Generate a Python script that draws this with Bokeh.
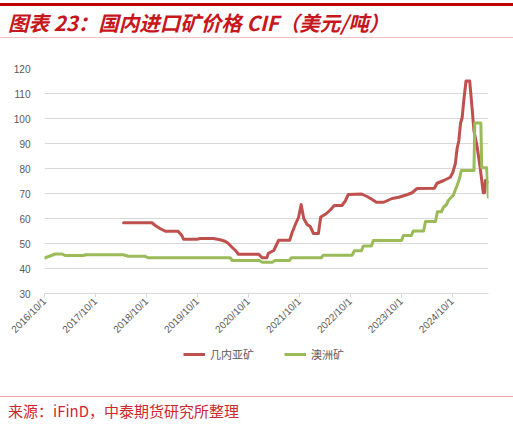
import math
from bokeh.plotting import figure
from bokeh.models import FixedTicker, Legend, LegendItem, Div, ColumnDataSource, Range1d
from bokeh.layouts import column
from bokeh.embed import file_html
from bokeh.resources import INLINE

# ---------------- data ----------------
guinea_dates = [
    "2018-04-20", "2018-11-10", "2018-12-04", "2019-01-10", "2019-02-15", "2019-05-15",
    "2019-06-12", "2019-06-24", "2019-09-28", "2019-10-22", "2020-01-25", "2020-03-12",
    "2020-04-18", "2020-05-09", "2020-06-06", "2020-07-01", "2020-07-22", "2020-12-15",
    "2021-01-09", "2021-02-12", "2021-02-24", "2021-04-01", "2021-05-06", "2021-07-24",
    "2021-08-10", "2021-09-03", "2021-09-27", "2021-10-15", "2021-11-03", "2021-11-27",
    "2021-12-19", "2022-01-12", "2022-02-17", "2022-03-03", "2022-04-12", "2022-05-12",
    "2022-06-09", "2022-08-03", "2022-08-27", "2022-09-18", "2022-12-21", "2023-01-31",
    "2023-03-01", "2023-04-06", "2023-05-28", "2023-07-28", "2023-09-15", "2023-11-13",
    "2023-12-19", "2024-01-24", "2024-05-27", "2024-06-15", "2024-08-03", "2024-09-19",
    "2024-10-07", "2024-10-25", "2024-11-07", "2024-11-19", "2024-12-01", "2024-12-13",
    "2024-12-25", "2025-01-10", "2025-02-06", "2025-02-24", "2025-03-06", "2025-03-28",
    "2025-04-21", "2025-05-12", "2025-05-21", "2025-05-27", "2025-06-12",
]
guinea_values = [
    58.3, 58.3, 57.2, 55.9, 54.9, 54.9,
    53.2, 51.7, 51.7, 52.0, 52.0, 51.5,
    50.9, 50.1, 48.5, 47.2, 45.7, 45.7,
    44.3, 44.3, 46.1, 47.2, 51.3, 51.3,
    54.2, 57.5, 60.5, 65.6, 60.0, 57.6,
    56.8, 54.0, 54.0, 60.6, 61.9, 63.5,
    65.2, 65.2, 67.0, 69.6, 69.8, 68.8,
    67.8, 66.5, 66.5, 68.0, 68.5, 69.5,
    70.3, 72.0, 72.1, 74.1, 75.2, 76.5,
    78.5, 82.0, 88.0, 91.0, 98.0, 100.5,
    107.5, 115.0, 115.0, 103.5, 95.0, 89.0,
    80.0, 70.3, 70.3, 75.2, 74.5,
]

australia_dates = [
    "2016-10-01", "2016-11-10", "2016-12-16", "2017-02-06", "2017-02-27", "2017-07-04",
    "2017-07-25", "2018-04-18", "2018-05-22", "2018-09-22", "2018-10-12", "2020-05-24",
    "2020-06-08", "2020-12-18", "2021-01-10", "2021-03-21", "2021-04-12", "2021-07-21",
    "2021-08-06", "2022-03-07", "2022-03-21", "2022-10-15", "2022-11-01", "2022-12-21",
    "2023-01-04", "2023-03-01", "2023-03-15", "2023-10-04", "2023-10-18", "2023-12-13",
    "2023-12-28", "2024-03-10", "2024-03-24", "2024-06-04", "2024-06-18", "2024-07-16",
    "2024-07-31", "2024-08-21", "2024-09-05", "2024-10-12", "2024-10-25", "2024-11-09",
    "2024-11-24", "2024-12-07", "2025-03-06", "2025-03-12", "2025-04-25", "2025-05-01",
    "2025-06-06", "2025-06-18",
]
australia_values = [
    44.2, 45.0, 45.8, 45.8, 45.2, 45.2,
    45.5, 45.5, 44.9, 44.9, 44.3, 44.3,
    43.2, 43.2, 42.5, 42.5, 43.2, 43.2,
    44.3, 44.3, 45.3, 45.3, 47.1, 47.1,
    49.0, 49.0, 51.2, 51.2, 53.2, 53.2,
    55.0, 55.0, 58.8, 58.8, 62.7, 62.7,
    64.5, 65.5, 67.2, 69.5, 71.5, 73.5,
    76.0, 79.2, 79.2, 98.2, 98.2, 80.3,
    80.3, 68.5,
]

tick_dates = ["2016-10-01", "2017-10-01", "2018-10-01", "2019-10-01", "2020-10-01",
              "2021-10-01", "2022-10-01", "2023-10-01", "2024-10-01"]
tick_labels = ["2016/10/1", "2017/10/1", "2018/10/1", "2019/10/1", "2020/10/1",
               "2021/10/1", "2022/10/1", "2023/10/1", "2024/10/1"]
y_ticks = [30, 40, 50, 60, 70, 80, 90, 100, 110, 120]

series_names = ["几内亚矿", "澳洲矿"]
title_text = "图表 23：国内进口矿价格 CIF（美元/吨）"
source_text = "来源：iFinD，中泰期货研究所整理"


def month_index(s):
    y, m, d = (int(v) for v in s.split("-"))
    return (y - 2016) * 12 + (m - 10) + (d - 1) / 30.44


RED = "#C0504D"
GREEN = "#9BBB59"
GRAY_TXT = "#595959"
GRID = "#D9D9D9"

src_g = ColumnDataSource(dict(x=[month_index(d) for d in guinea_dates], y=guinea_values))
src_a = ColumnDataSource(dict(x=[month_index(d) for d in australia_dates], y=australia_values))

# ---------------- main chart ----------------
p = figure(width=513, height=304, x_range=(0, month_index("2025-06-19")), y_range=(30, 120),
           output_backend="svg", toolbar_location=None,
           min_border_left=44, min_border_right=25, min_border_top=30, min_border_bottom=49)
p.outline_line_color = None
p.background_fill_color = "white"
p.border_fill_color = "white"

p.line("x", "y", source=src_g, color=RED, line_width=3, line_join="round", line_cap="round")
p.line("x", "y", source=src_a, color=GREEN, line_width=3, line_join="round", line_cap="round")

# y axis
p.yaxis.ticker = FixedTicker(ticks=y_ticks)
p.yaxis.axis_line_color = None
p.yaxis.major_tick_line_color = None
p.yaxis.minor_tick_line_color = None
p.yaxis.major_label_standoff = 8
p.yaxis.major_label_text_font = "Liberation Sans"
p.yaxis.major_label_text_font_size = "10px"
p.yaxis.major_label_text_color = GRAY_TXT
p.ygrid.grid_line_color = GRID
p.ygrid.grid_line_width = 1
p.xgrid.grid_line_color = None

# x axis
tick_pos = [int(round(month_index(d))) for d in tick_dates]
p.xaxis.ticker = FixedTicker(ticks=tick_pos)
p.xaxis.major_label_overrides = {t: lab for t, lab in zip(tick_pos, tick_labels)}
p.xaxis.major_label_orientation = math.pi / 4
p.xaxis.axis_line_color = GRID
p.xaxis.major_tick_line_color = GRID
p.xaxis.major_tick_in = 0
p.xaxis.major_tick_out = 4
p.xaxis.minor_tick_line_color = None
p.xaxis.major_label_standoff = 2
p.xaxis.major_label_text_font = "Liberation Sans"
p.xaxis.major_label_text_font_size = "10px"
p.xaxis.major_label_text_color = GRAY_TXT

# ---------------- legend strip ----------------
lg = figure(width=513, height=52, x_range=Range1d(0, 1), y_range=Range1d(0, 1),
            output_backend="svg", toolbar_location=None,
            min_border_left=44, min_border_right=25, min_border_top=0, min_border_bottom=0)
lg.axis.visible = False
lg.grid.visible = False
lg.outline_line_color = None
lg.border_fill_color = "white"
# proxy renderers (kept outside the visible range) that only feed the legend
lr1 = lg.line(x=[-5, -4], y=[-5, -5], color=RED, line_width=3)
lr2 = lg.line(x=[-5, -4], y=[-5, -5], color=GREEN, line_width=3)
legend = Legend(items=[LegendItem(label=series_names[0], renderers=[lr1]),
                       LegendItem(label=series_names[1], renderers=[lr2])],
                orientation="horizontal", location=(137, 30),
                label_text_font="Noto Sans CJK SC", label_text_font_size="11px",
                label_text_color=GRAY_TXT, glyph_width=22, glyph_height=12,
                label_standoff=5, spacing=30, padding=2, margin=0,
                border_line_alpha=0, background_fill_alpha=0)
lg.add_layout(legend, "center")

# ---------------- title & source ----------------
title_div = Div(
    text=('<div style="width:513px;height:35px;box-sizing:border-box;margin-top:3px;'
          'border-top:3px solid #C00000;border-bottom:1px solid #F4C0C0;'
          "font-family:'Noto Sans CJK SC';font-weight:bold;font-style:italic;"
          'font-size:20.5px;color:#C8161D;line-height:28px;padding-top:2px;padding-left:8px;'
          'white-space:nowrap;">' + title_text + '</div>'),
    width=513, height=38, margin=(0, 0, 0, 0))

source_div = Div(
    text=('<div style="width:513px;height:29px;box-sizing:border-box;margin-top:2px;'
          'border-top:1px solid #F2A0A0;'
          "font-family:'Noto Sans CJK SC';font-size:15px;color:#D0262C;"
          'line-height:28px;padding-left:8px;white-space:nowrap;">'
          + source_text + '</div>'),
    width=513, height=31, margin=(0, 0, 0, 0))

layout = column(title_div, p, lg, source_div, spacing=0)

open("out.html", "w").write(file_html(layout, INLINE))
